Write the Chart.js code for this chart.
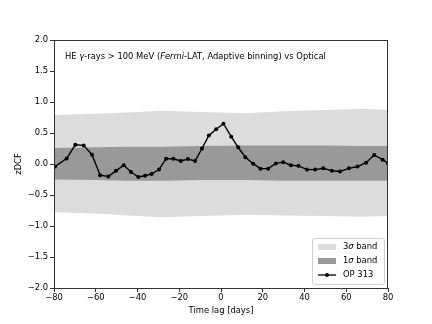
<!DOCTYPE html>
<html>
<head>
<meta charset="utf-8">
<script src="https://cdn.jsdelivr.net/npm/chart.js@4/dist/chart.umd.min.js"></script>
<style>
  html, body { margin: 0; padding: 0; background: #fff; }
  #wrap { width: 432px; height: 324px; }
</style>
</head>
<body>
<div id="wrap"><canvas id="chart" width="432" height="324"></canvas></div>
<script>
// zDCF points (time lag in days, value)
const lagDays = [-79.5, -73.9, -69.8, -65.8, -61.8, -57.9, -54.0, -50.3, -46.6, -43.1,
  -39.6, -36.4, -33.2, -29.7, -26.3, -22.8, -19.3, -15.9, -12.4, -9.1,
  -5.8, -2.3, 1.2, 4.9, 8.2, 11.7, 15.4, 18.9, 22.6, 26.3,
  29.8, 33.5, 37.1, 41.2, 45.1, 49.0, 53.1, 57.0, 61.3, 65.4,
  69.5, 73.4, 77.4, 80];
const zdcf = [-0.04, 0.09, 0.31, 0.30, 0.15, -0.18, -0.20, -0.11, -0.02, -0.13,
  -0.21, -0.19, -0.16, -0.09, 0.085, 0.085, 0.05, 0.08, 0.05, 0.25,
  0.46, 0.56, 0.65, 0.44, 0.27, 0.11, 0.005, -0.075, -0.075, 0.01,
  0.03, -0.02, -0.03, -0.09, -0.09, -0.07, -0.11, -0.12, -0.07, -0.04,
  0.02, 0.145, 0.07, 0.01];

// significance bands
const bandLag = [-80, -60, -45, -28, -10, 12, 30, 50, 68, 80];
const sig3Upper = [0.79, 0.81, 0.83, 0.86, 0.84, 0.82, 0.85, 0.87, 0.89, 0.87];
const sig3Lower = [-0.78, -0.80, -0.83, -0.86, -0.84, -0.82, -0.83, -0.84, -0.85, -0.84];
const sig1Upper = [0.26, 0.27, 0.28, 0.28, 0.29, 0.30, 0.30, 0.30, 0.29, 0.29];
const sig1Lower = [-0.25, -0.26, -0.27, -0.27, -0.26, -0.26, -0.27, -0.27, -0.27, -0.27];

const xTicks = [-80, -60, -40, -20, 0, 20, 40, 60, 80];
const yTicks = [-2.0, -1.5, -1.0, -0.5, 0.0, 0.5, 1.0, 1.5, 2.0];

const FONT = 'DejaVu Sans';
const FS = 8.4;
const LIGHT = '#dcdcdc';
const DARK = '#999999';

const toXY = (xs, ys) => xs.map((x, i) => ({ x: x, y: ys[i] }));
const fmt = (v, d) => (v < 0 ? '\u2212' : '') + Math.abs(v).toFixed(d);

// 匡線、圖內標題與圖例
const decorations = {
  id: 'decorations',
  afterDraw(chart) {
    const ctx = chart.ctx;
    const a = chart.chartArea;
    ctx.save();
    ctx.strokeStyle = '#333';
    ctx.lineWidth = 1;
    ctx.strokeRect(Math.round(a.left) + 0.5, Math.round(a.top) + 0.5,
      Math.round(a.right - a.left) - 1, Math.round(a.bottom - a.top));

    // title inside the axes
    const parts = [
      ['HE ', 'normal'], ['\u03b3', 'italic'], ['-rays > 100 MeV (', 'normal'],
      ['Fermi', 'italic'], ['-LAT, Adaptive binning) vs Optical', 'normal']
    ];
    let x = a.left + 11;
    const y = a.top + 19;
    ctx.fillStyle = '#000';
    ctx.textBaseline = 'alphabetic';
    parts.forEach(([txt, style]) => {
      ctx.font = `${style} ${FS}px "${FONT}"`;
      ctx.fillText(txt, x, y);
      x += ctx.measureText(txt).width;
    });

    // legend box
    const bx = a.right - 76, by = a.bottom - 50, bw = 72, bh = 46;
    ctx.fillStyle = 'rgba(255,255,255,0.8)';
    ctx.strokeStyle = '#d0d0d0';
    ctx.beginPath();
    ctx.roundRect(bx + 0.5, by + 0.5, bw, bh, 2);
    ctx.fill();
    ctx.stroke();

    const rows = [by + 9, by + 23, by + 37];
    const sx = bx + 6, sw = 18;
    ctx.fillStyle = LIGHT;
    ctx.fillRect(sx, rows[0] - 3, sw, 6);
    ctx.fillStyle = DARK;
    ctx.fillRect(sx, rows[1] - 3, sw, 6);
    ctx.strokeStyle = '#000';
    ctx.lineWidth = 1.3;
    ctx.beginPath();
    ctx.moveTo(sx, rows[2]);
    ctx.lineTo(sx + sw, rows[2]);
    ctx.stroke();
    ctx.fillStyle = '#000';
    ctx.beginPath();
    ctx.arc(sx + sw / 2, rows[2], 2, 0, Math.PI * 2);
    ctx.fill();

    ctx.textBaseline = 'middle';
    const tx = sx + sw + 7;
    [['3', '\u03c3', ' band'], ['1', '\u03c3', ' band']].forEach((p, i) => {
      let xx = tx;
      ctx.font = `${FS}px "${FONT}"`;
      ctx.fillText(p[0], xx, rows[i]);
      xx += ctx.measureText(p[0]).width;
      ctx.font = `italic ${FS}px "${FONT}"`;
      ctx.fillText(p[1], xx, rows[i]);
      xx += ctx.measureText(p[1]).width;
      ctx.font = `${FS}px "${FONT}"`;
      ctx.fillText(p[2], xx, rows[i]);
    });
    ctx.fillText('OP 313', tx, rows[2]);
    ctx.restore();
  }
};

new Chart(document.getElementById('chart'), {
  type: 'line',
  data: {
    datasets: [
      {
        label: 'OP 313',
        data: toXY(lagDays, zdcf),
        borderColor: '#000',
        backgroundColor: '#000',
        borderWidth: 1.4,
        pointRadius: 2,
        pointBorderWidth: 0,
        fill: false,
        tension: 0,
      },
      {
        label: '1σ upper',
        data: toXY(bandLag, sig1Upper),
        borderWidth: 0,
        pointRadius: 0,
        backgroundColor: DARK,
        fill: '+1',
      },
      {
        label: '1σ lower',
        data: toXY(bandLag, sig1Lower),
        borderWidth: 0,
        pointRadius: 0,
        fill: false,
      },
      {
        label: '3σ upper',
        data: toXY(bandLag, sig3Upper),
        borderWidth: 0,
        pointRadius: 0,
        backgroundColor: LIGHT,
        fill: '+1',
      },
      {
        label: '3σ lower',
        data: toXY(bandLag, sig3Lower),
        borderWidth: 0,
        pointRadius: 0,
        fill: false,
      },
    ],
  },
  options: {
    responsive: false,
    animation: false,
    layout: { padding: { top: 40, right: 44, left: 14, bottom: 8 } },
    plugins: {
      legend: { display: false },
      tooltip: { enabled: false },
    },
    scales: {
      x: {
        type: 'linear',
        min: -80,
        max: 80,
        afterBuildTicks: s => { s.ticks = xTicks.map(v => ({ value: v })); },
        afterFit: s => { s.height = 28; },
        grid: { drawOnChartArea: false, tickLength: 4, color: '#333' },
        border: { color: '#333' },
        ticks: {
          color: '#000',
          padding: 1,
          maxRotation: 0,
          font: { family: FONT, size: FS },
          callback: v => fmt(v, 0),
        },
        title: {
          display: true,
          text: 'Time lag [days]',
          color: '#000',
          padding: { top: 1, bottom: 0 },
          font: { family: FONT, size: FS },
        },
      },
      y: {
        min: -2,
        max: 2,
        afterBuildTicks: s => { s.ticks = yTicks.map(v => ({ value: v })); },
        afterFit: s => { s.width = 40; },
        grid: { drawOnChartArea: false, tickLength: 4, color: '#333' },
        border: { color: '#333' },
        ticks: {
          color: '#000',
          padding: 2,
          font: { family: FONT, size: FS },
          callback: v => fmt(v, 1),
        },
        title: {
          display: true,
          text: 'zDCF',
          color: '#000',
          padding: { top: 0, bottom: 0 },
          font: { family: FONT, size: FS },
        },
      },
    },
  },
  plugins: [decorations],
});
</script>
</body>
</html>
